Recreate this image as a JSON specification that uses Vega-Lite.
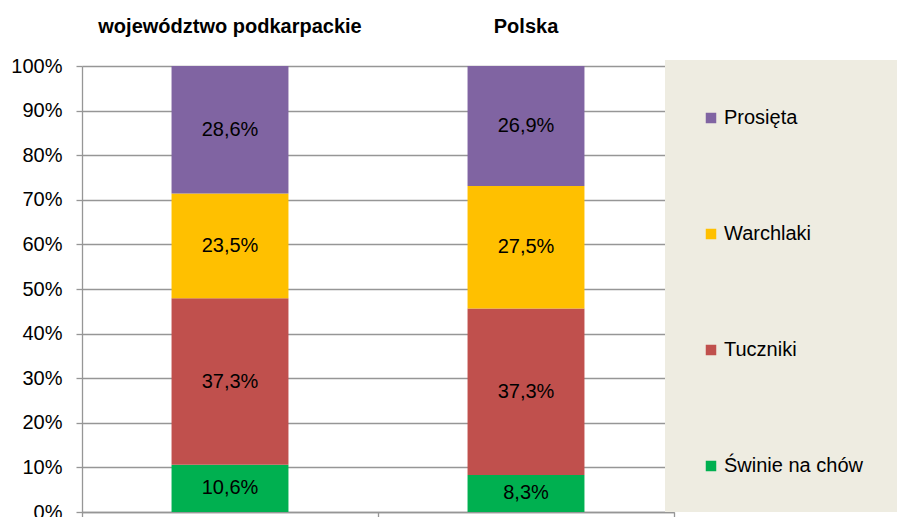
{
  "$schema": "https://vega.github.io/schema/vega-lite/v6.json",
  "width": 592,
  "height": 446,
  "autosize": {"type": "none"},
  "padding": {"left": 82, "top": 66, "right": 223, "bottom": 5},
  "background": "white",
  "config": {
    "locale": {"number": {"decimal": ",", "thousands": " ", "grouping": [3], "currency": ["", " zł"]}},
    "font": "Liberation Sans",
    "view": {"stroke": null}
  },
  "data": {
    "values": [
      {"region": "województwo podkarpackie", "category": "Świnie na chów", "order": 1, "share": 0.106},
      {"region": "województwo podkarpackie", "category": "Tuczniki", "order": 2, "share": 0.373},
      {"region": "województwo podkarpackie", "category": "Warchlaki", "order": 3, "share": 0.235},
      {"region": "województwo podkarpackie", "category": "Prosięta", "order": 4, "share": 0.286},
      {"region": "Polska", "category": "Świnie na chów", "order": 1, "share": 0.083},
      {"region": "Polska", "category": "Tuczniki", "order": 2, "share": 0.373},
      {"region": "Polska", "category": "Warchlaki", "order": 3, "share": 0.275},
      {"region": "Polska", "category": "Prosięta", "order": 4, "share": 0.269}
    ]
  },
  "encoding": {
    "order": {"field": "order", "type": "quantitative"}
  },
  "layer": [
    {
      "mark": {"type": "bar", "width": {"band": 0.395}},
      "encoding": {
        "x": {
          "field": "region",
          "type": "nominal",
          "sort": null,
          "title": null,
          "scale": {"paddingInner": 0, "paddingOuter": 0},
          "axis": {
            "orient": "top",
            "ticks": false,
            "domain": false,
            "labelAngle": 0,
            "labelFontSize": 20,
            "labelFontWeight": "bold",
            "labelColor": "#000000",
            "labelPadding": 30,
            "labelLimit": 400
          }
        },
        "y": {
          "field": "share",
          "type": "quantitative",
          "stack": "zero",
          "title": null,
          "scale": {"domain": [0, 1], "nice": false},
          "axis": {
            "format": ".0%",
            "values": [0, 0.1, 0.2, 0.3, 0.4, 0.5, 0.6, 0.7, 0.8, 0.9, 1],
            "labelFontSize": 20,
            "labelColor": "#000000",
            "labelPadding": 14,
            "tickSize": 6,
            "tickColor": "#969696",
            "domainColor": "#969696",
            "gridColor": "#969696",
            "gridWidth": 1.3,
            "domainWidth": 1.3,
            "tickWidth": 1.3,
            "grid": true
          }
        },
        "color": {
          "field": "category",
          "type": "nominal",
          "scale": {
            "domain": ["Prosięta", "Warchlaki", "Tuczniki", "Świnie na chów"],
            "range": ["#8064A2", "#FFC000", "#C0504D", "#00B050"]
          },
          "legend": {
            "title": " ",
            "titleFontSize": 4,
            "titlePadding": 8,
            "orient": "none",
            "legendX": 583,
            "legendY": -6,
            "zindex": 2,
            "direction": "vertical",
            "fillColor": "#EEECE1",
            "padding": 36,
            "symbolType": "square",
            "symbolSize": 110,
            "symbolStrokeWidth": 0,
            "symbolOpacity": 1,
            "labelFontSize": 20,
            "labelColor": "#000000",
            "labelOffset": 3,
            "rowPadding": 96,
            "labelLimit": 300
          }
        }
      }
    },
    {
      "mark": {"type": "text", "fontSize": 20, "color": "#000000"},
      "encoding": {
        "x": {
          "field": "region",
          "type": "nominal",
          "sort": null,
          "title": null,
          "scale": {"paddingInner": 0, "paddingOuter": 0},
          "axis": {
            "orient": "bottom",
            "labels": false,
            "tickBand": "extent",
            "tickSize": 6,
            "tickWidth": 1.3,
            "domainWidth": 1.3,
            "tickColor": "#969696",
            "domainColor": "#969696"
          }
        },
        "y": {
          "field": "share",
          "type": "quantitative",
          "stack": "zero",
          "bandPosition": 0.5
        },
        "detail": {"field": "category", "type": "nominal"},
        "text": {"field": "share", "type": "quantitative", "format": ".1%"}
      }
    }
  ]
}
